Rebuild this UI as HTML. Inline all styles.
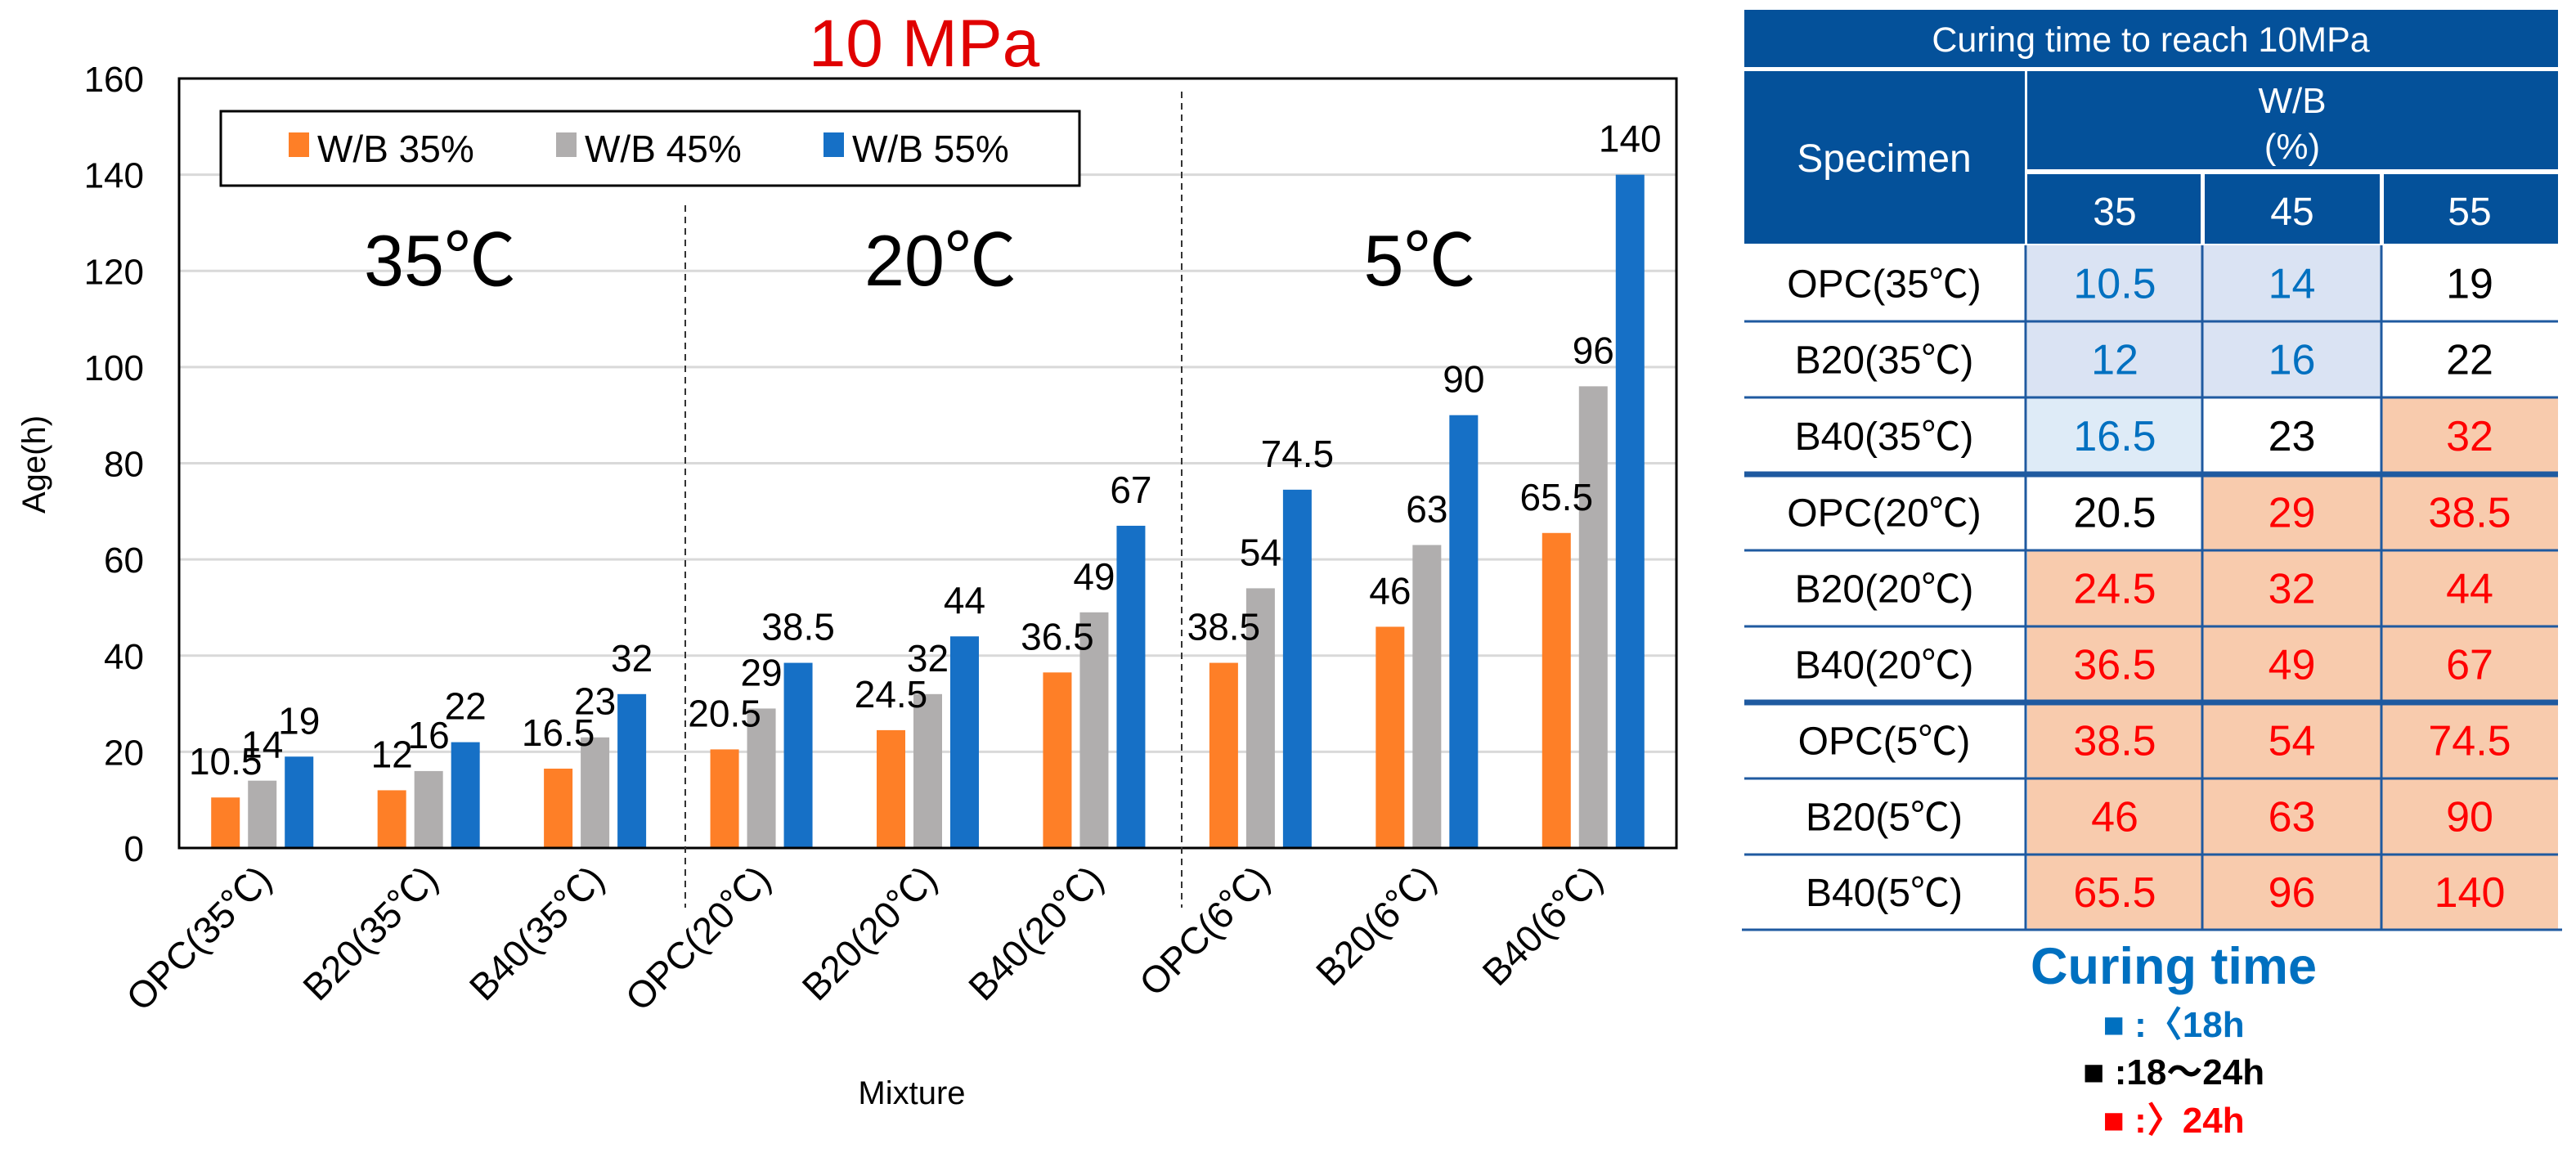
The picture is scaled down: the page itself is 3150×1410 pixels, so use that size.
<!DOCTYPE html>
<html><head><meta charset="utf-8"><style>
html,body{margin:0;padding:0;background:#fff;}
svg{display:block;font-family:"Liberation Sans","Noto Sans CJK KR",sans-serif;}
</style></head><body>
<svg id="svg" width="3150" height="1410" viewBox="0 0 3150 1410" xmlns="http://www.w3.org/2000/svg">
<rect width="3150" height="1410" fill="#fff"/>
<text x="1130" y="81" font-size="82" fill="#e00000" text-anchor="middle">10 MPa</text>
<g id="grid"></g>
<g id="bars"></g>
<g id="labels"></g>
<g id="yaxis"></g>
<g id="xaxis"></g>
<rect x="219" y="96" width="1831" height="941" fill="none" stroke="#000" stroke-width="3"/>
<line x1="838" y1="251" x2="838" y2="1110" stroke="#333" stroke-width="2" stroke-dasharray="8,6"/>
<line x1="1445" y1="112" x2="1445" y2="1110" stroke="#333" stroke-width="2" stroke-dasharray="8,6"/>
<text x="538" y="349" font-size="88" text-anchor="middle">35℃</text>
<text x="1150" y="349" font-size="88" text-anchor="middle">20℃</text>
<text x="1736" y="349" font-size="88" text-anchor="middle">5℃</text>
<g>
<rect x="270" y="136" width="1050" height="91" fill="#fff" stroke="#000" stroke-width="3"/>
<rect x="353" y="162" width="25" height="30" fill="#fe7f27"/>
<text x="388" y="198" font-size="46">W/B 35%</text>
<rect x="680" y="162" width="25" height="30" fill="#b0aeae"/>
<text x="715" y="198" font-size="46">W/B 45%</text>
<rect x="1007" y="162" width="25" height="30" fill="#1670c6"/>
<text x="1042" y="198" font-size="46">W/B 55%</text>
</g>
<text transform="translate(55,568) rotate(-90)" font-size="40" text-anchor="middle">Age(h)</text>
<text x="1115" y="1350" font-size="40" text-anchor="middle">Mixture</text>

<g>
<rect x="2133" y="12" width="995" height="70" fill="#04519a"/>
<text x="2630" y="63" font-size="43" fill="#fff" text-anchor="middle">Curing time to reach 10MPa</text>
<rect x="2133" y="87" width="343" height="211" fill="#04519a"/>
<text x="2304" y="210" font-size="48" fill="#fff" text-anchor="middle">Specimen</text>
<rect x="2479" y="87" width="649" height="120" fill="#04519a"/>
<text x="2803" y="138" font-size="44" fill="#fff" text-anchor="middle">W/B</text>
<text x="2803" y="194" font-size="44" fill="#fff" text-anchor="middle">(%)</text>
<rect x="2479" y="213" width="212" height="85" fill="#04519a"/>
<rect x="2696" y="213" width="214" height="85" fill="#04519a"/>
<rect x="2915" y="213" width="213" height="85" fill="#04519a"/>
<text x="2586" y="275" font-size="48" fill="#fff" text-anchor="middle">35</text>
<text x="2803" y="275" font-size="48" fill="#fff" text-anchor="middle">45</text>
<text x="3020" y="275" font-size="48" fill="#fff" text-anchor="middle">55</text>
<g id="tbody"></g>
</g>
<g>
<text x="2658" y="1203" font-size="63" font-weight="bold" fill="#0070c0" text-anchor="middle">Curing time</text>
<text x="2658" y="1268" font-size="44" font-weight="bold" fill="#0070c0" text-anchor="middle">■ :〈18h</text>
<text x="2658" y="1326" font-size="44" font-weight="bold" fill="#000" text-anchor="middle">■ :18～24h</text>
<text x="2658" y="1385" font-size="44" font-weight="bold" fill="#ff0000" text-anchor="middle">■ :〉24h</text>
</g>
</svg>
<script>
const categories = ['OPC(35℃)','B20(35℃)','B40(35℃)','OPC(20℃)','B20(20℃)','B40(20℃)','OPC(6℃)','B20(6℃)','B40(6℃)'];
const wb35 = [10.5,12,16.5,20.5,24.5,36.5,38.5,46,65.5];
const wb45 = [14,16,23,29,32,49,54,63,96];
const wb55 = [19,22,32,38.5,44,67,74.5,90,140];
const yTicks = [0,20,40,60,80,100,120,140,160];
const tableRows = ['OPC(35℃)','B20(35℃)','B40(35℃)','OPC(20℃)','B20(20℃)','B40(20℃)','OPC(5℃)','B20(5℃)','B40(5℃)'];

const NS = 'http://www.w3.org/2000/svg';
const PL = 219, PR = 2050, PT = 96, PB = 1037, YMAX = 160;
const pitch = (PR - PL) / categories.length;
function xc(i){ return PL + (i + 0.5) * pitch; }
function y(v){ return PB - v * (PB - PT) / YMAX; }
function mk(tag, attrs, parent){ const e = document.createElementNS(NS, tag); for (const k in attrs) e.setAttribute(k, attrs[k]); parent.appendChild(e); return e; }

const grid = document.getElementById('grid');
const yax = document.getElementById('yaxis');
yTicks.forEach(t => {
  if (t > 0) {
    const l = mk('line', {x1: PL, x2: PR, y1: y(t), y2: y(t), stroke: '#d9d9d9', 'stroke-width': 3}, grid);
    
    
  }
  const tx = mk('text', {x: 176, y: y(t) + 16, 'font-size': 44, 'text-anchor': 'end'}, yax);
  tx.textContent = t;
  
  
});

const barsG = document.getElementById('bars');
const labG = document.getElementById('labels');
const series = [[wb35, '#fe7f27', -45, 'bar-wb35'], [wb45, '#b0aeae', 0, 'bar-wb45'], [wb55, '#1670c6', 45, 'bar-wb55']];
series.forEach(s => {
  s[0].forEach((v, i) => {
    const cx = xc(i) + s[2];
    const r = mk('rect', {x: cx - 17.5, y: y(v), width: 35, height: PB - y(v), fill: s[1]}, barsG);
    
    
    const t = mk('text', {x: cx, y: y(v) - 28, 'font-size': 46, 'text-anchor': 'middle'}, labG);
    t.textContent = v;
    
    
  });
});

const xax = document.getElementById('xaxis');
categories.forEach((c, i) => {
  const t = mk('text', {transform: 'translate(' + (xc(i) + 14) + ',1078) rotate(-45)', 'font-size': 46, 'text-anchor': 'end'}, xax);
  t.textContent = c;
  
  
});

const tb = document.getElementById('tbody');
const colX = [2479, 2693, 2912, 3128];
const rowY = [300, 393, 486, 580, 673, 766, 859, 952, 1045, 1137];
function cellStyle(v, r){
  if (v < 18) return [(r === 2 ? '#deebf7' : '#dae3f3'), '#0070c0'];
  if (v <= 24) return ['#fff', '#000'];
  return ['#f8cbad', '#ff0000'];
}
tableRows.forEach((name, r) => {
  const t = mk('text', {x: 2304, y: (rowY[r] + rowY[r+1]) / 2 + 17, 'font-size': 48, 'text-anchor': 'middle'}, tb);
  t.textContent = name;
  
  
  [wb35, wb45, wb55].forEach((arr, c) => {
    const v = arr[r];
    const st = cellStyle(v, r);
    const rc = mk('rect', {x: colX[c], y: rowY[r], width: colX[c+1] - colX[c], height: rowY[r+1] - rowY[r], fill: st[0]}, tb);
    
    
    const tt = mk('text', {x: (colX[c] + colX[c+1]) / 2, y: (rowY[r] + rowY[r+1]) / 2 + 18, 'font-size': 52, 'text-anchor': 'middle', fill: st[1]}, tb);
    tt.textContent = v;
    
    
  });
});
rowY.slice(1).forEach((yy, k) => {
  const thick = (k === 2 || k === 5);
  const l = mk('line', {x1: k === 8 ? 2130 : 2133, x2: k === 8 ? 3133 : 3128, y1: yy, y2: yy, stroke: '#1f5aa0', 'stroke-width': thick ? 7 : 3}, tb);
  
  
});
[2477, 2693, 2912].forEach(xx => {
  const l = mk('line', {x1: xx, x2: xx, y1: 300, y2: 1137, stroke: '#1f5aa0', 'stroke-width': 3}, tb);
  
  
});
</script>
</body></html>
